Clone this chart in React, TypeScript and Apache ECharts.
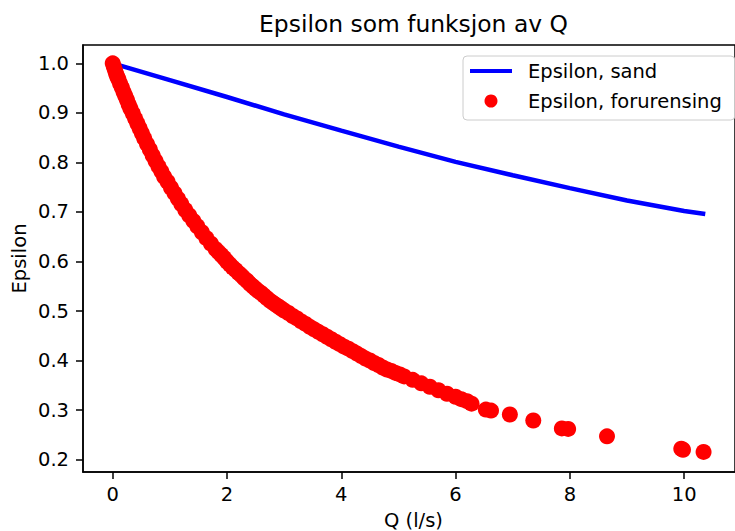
import React, { useEffect, useRef } from 'react';
import * as echarts from 'echarts';

const titleText = 'Epsilon som funksjon av Q';
const xName = 'Q (l/s)';
const yName = 'Epsilon';
const sandName = 'Epsilon, sand';
const pollName = 'Epsilon, forurensing';

const xTicks = [0, 2, 4, 6, 8, 10];
const yTicks = [0.2, 0.3, 0.4, 0.5, 0.6, 0.7, 0.8, 0.9, 1.0];

const sandQ = [0, 1, 2, 3, 4, 5, 6, 7, 8, 9, 10, 10.37];
const sandEps = [1.0, 0.966, 0.932, 0.897, 0.864, 0.832, 0.801, 0.774, 0.748, 0.723, 0.702, 0.696];

const pollQ = [
  0, 0.02, 0.04, 0.06, 0.08, 0.1, 0.13, 0.16, 0.19, 0.22, 0.25, 0.28, 0.31, 0.35, 0.39, 0.43, 0.47,
  0.51, 0.55, 0.6, 0.65, 0.7, 0.75, 0.8, 0.85, 0.9, 0.96, 1.02, 1.08, 1.14, 1.2, 1.27, 1.34, 1.41,
  1.48, 1.56, 1.64, 1.72, 1.8, 1.85, 1.9, 1.95, 2.0, 2.05, 2.1, 2.15, 2.2, 2.25, 2.3, 2.35, 2.4,
  2.45, 2.5, 2.55, 2.6, 2.65, 2.7, 2.75, 2.8, 2.85, 2.9, 2.95, 3.0, 3.075, 3.15, 3.225, 3.3, 3.375,
  3.45, 3.525, 3.6, 3.675, 3.75, 3.825, 3.9, 3.975, 4.05, 4.125, 4.2, 4.275, 4.35, 4.425, 4.5,
  4.575, 4.65, 4.725, 4.8, 4.875, 4.95, 5.025, 5.1, 5.25, 5.4, 5.55, 5.7, 5.85, 6.0, 6.1, 6.2,
  6.28, 6.53, 6.62, 6.95, 7.36, 7.86, 7.97, 8.65, 9.95, 9.98, 10.34,
];
const pollEps = [
  1.0, 0.993, 0.986, 0.979, 0.973, 0.968, 0.959, 0.951, 0.942, 0.934, 0.926, 0.917, 0.909, 0.899,
  0.889, 0.879, 0.869, 0.859, 0.849, 0.837, 0.826, 0.814, 0.803, 0.792, 0.782, 0.771, 0.761, 0.749,
  0.738, 0.727, 0.716, 0.704, 0.693, 0.682, 0.671, 0.659, 0.647, 0.636, 0.625, 0.619, 0.613, 0.607,
  0.6, 0.594, 0.588, 0.583, 0.577, 0.572, 0.566, 0.561, 0.555, 0.55, 0.545, 0.54, 0.536, 0.531,
  0.526, 0.521, 0.517, 0.513, 0.509, 0.505, 0.501, 0.496, 0.49, 0.485, 0.479, 0.474, 0.468, 0.463,
  0.458, 0.453, 0.448, 0.443, 0.438, 0.433, 0.428, 0.424, 0.419, 0.414, 0.409, 0.404, 0.4, 0.395,
  0.391, 0.386, 0.382, 0.379, 0.375, 0.372, 0.368, 0.361, 0.354, 0.347, 0.34, 0.333, 0.327, 0.322,
  0.318, 0.313, 0.301, 0.299, 0.291, 0.279, 0.263, 0.262, 0.247, 0.222, 0.22, 0.2155,
];

const FONT = 'DejaVu Sans';

export default function App() {
  const ref = useRef<HTMLDivElement>(null);
  useEffect(() => {
    const chart = echarts.init(ref.current!, null, { renderer: 'svg' });
    const sandData = sandQ.map((q, i) => [q, sandEps[i]]);
    const pollData = pollQ.map((q, i) => [q, pollEps[i]]);
    chart.setOption({
      animation: false,
      backgroundColor: '#ffffff',
      grid: {
        left: 83,
        top: 45,
        width: 661,
        height: 427,
        show: true,
        borderColor: '#000',
        borderWidth: 1.5,
        containLabel: false,
      },
      graphic: [
        {
          type: 'text',
          x: 413.5,
          y: 24,
          style: {
            text: titleText,
            fontFamily: FONT,
            fontSize: 23.4,
            fill: '#000',
            align: 'center',
            verticalAlign: 'middle',
          },
        },
        {
          type: 'text',
          x: 413.5,
          y: 520,
          style: {
            text: xName,
            fontFamily: FONT,
            fontSize: 19.5,
            fill: '#000',
            align: 'center',
            verticalAlign: 'middle',
          },
        },
        {
          type: 'text',
          x: 19,
          y: 258.5,
          rotation: Math.PI / 2,
          style: {
            text: yName,
            fontFamily: FONT,
            fontSize: 19.5,
            fill: '#000',
            align: 'center',
            verticalAlign: 'middle',
          },
        },
      ],
      legend: {
        orient: 'vertical',
        left: 463,
        top: 56,
        itemWidth: 42,
        itemHeight: 13,
        itemGap: 10,
        padding: [5, 13, 9, 7],
        borderColor: '#cccccc',
        borderWidth: 1,
        borderRadius: 4,
        backgroundColor: 'rgba(255,255,255,0.8)',
        textStyle: { fontFamily: FONT, fontSize: 19.5, color: '#000', padding: [0, 0, 0, 11] },
        data: [
          { name: sandName, icon: 'path://M0 0H42V4H0Z' },
          { name: pollName, icon: 'circle' },
        ],
      },
      xAxis: {
        type: 'value',
        min: -0.52,
        max: 10.89,
        axisLine: { show: true, onZero: false, lineStyle: { color: '#000', width: 1.5 } },
        axisTick: { show: true, length: 7, customValues: xTicks, lineStyle: { color: '#000', width: 1.5 } },
        axisLabel: {
          customValues: xTicks,
          margin: 12,
          fontFamily: FONT,
          fontSize: 19.5,
          color: '#000',
          formatter: (v: number) => String(v),
        },
        splitLine: { show: false },
      },
      yAxis: {
        type: 'value',
        min: 0.175,
        max: 1.037,
        axisLine: { show: true, onZero: false, lineStyle: { color: '#000', width: 1.5 } },
        axisTick: { show: true, length: 7, customValues: yTicks, lineStyle: { color: '#000', width: 1.5 } },
        axisLabel: {
          customValues: yTicks,
          margin: 14,
          fontFamily: FONT,
          fontSize: 19.5,
          color: '#000',
          formatter: (v: number) => v.toFixed(1),
        },
        splitLine: { show: false },
      },
      series: [
        {
          name: sandName,
          type: 'line',
          data: sandData,
          symbol: 'none',
          showSymbol: false,
          lineStyle: { color: '#0000ff', width: 4.5 },
          itemStyle: { color: '#0000ff' },
          z: 2,
        },
        {
          name: pollName,
          type: 'scatter',
          data: pollData,
          symbol: 'circle',
          symbolSize: 16,
          itemStyle: { color: '#ff0000', opacity: 1 },
          z: 3,
        },
      ],
    });
    return () => chart.dispose();
  }, []);
  return (
    <div
      ref={ref}
      style={{ position: 'fixed', left: 0, top: 0, width: 735, height: 531, background: '#fff' }}
    />
  );
}
